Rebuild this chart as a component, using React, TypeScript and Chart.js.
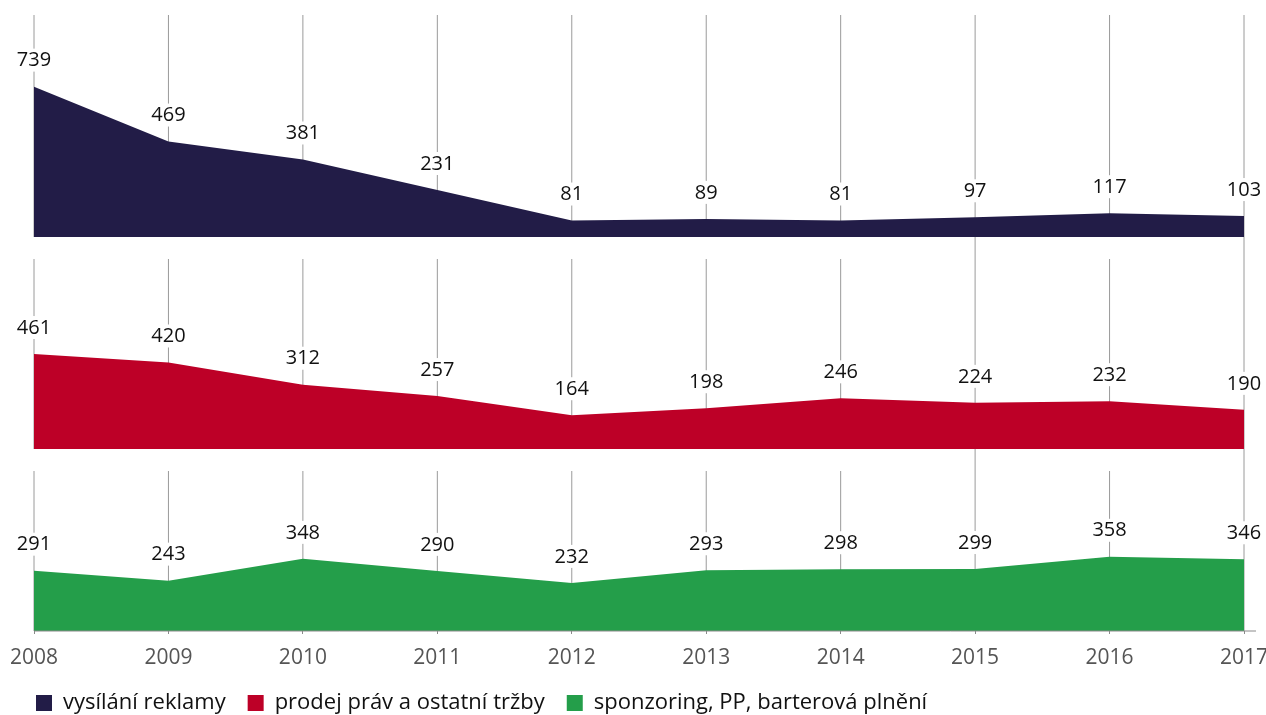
import React, { useEffect, useRef } from 'react';
import { Chart, registerables } from 'chart.js';

Chart.register(...registerables);

// ---- data ----
const years = ['2008', '2009', '2010', '2011', '2012', '2013', '2014', '2015', '2016', '2017'];
const advertising = [739, 469, 381, 231, 81, 89, 81, 97, 117, 103];
const rightsAndOther = [461, 420, 312, 257, 164, 198, 246, 224, 232, 190];
const sponsoring = [291, 243, 348, 290, 232, 293, 298, 299, 358, 346];
const seriesNames = ['vysílání reklamy', 'prodej práv a ostatní tržby', 'sponzoring, PP, barterová plnění'];
const continuousGridYears = ['2015', '2017'];

// ---- style ----
const FONT = '"Open Sans", "Noto Sans", sans-serif';
const COLORS = ['#221c47', '#bd0027', '#249e4a'];
const PANEL_GAP = 22;
const LABEL_OFFSET = 27;

export default function App() {
  const ref = useRef<HTMLCanvasElement | null>(null);

  useEffect(() => {
    document.body.style.margin = '0';
    const canvas = ref.current;
    if (!canvas) return;
    const panelIds = ['y1', 'y2', 'y3'];

    const gridPlugin = {
      id: 'panelGrid',
      beforeDatasetsDraw(chart: any) {
        const { ctx, scales, chartArea } = chart;
        const xs = scales.x;
        ctx.save();
        ctx.strokeStyle = '#9a9a9a';
        ctx.lineWidth = 1;
        years.forEach((yr, i) => {
          const px = xs.getPixelForValue(i);
          if (continuousGridYears.includes(yr)) {
            ctx.beginPath();
            ctx.moveTo(px, chartArea.top);
            ctx.lineTo(px, chartArea.bottom);
            ctx.stroke();
          } else {
            panelIds.forEach((id, p) => {
              const s = scales[id];
              const top = s.top + (p === 0 ? 0 : PANEL_GAP);
              ctx.beginPath();
              ctx.moveTo(px, top);
              ctx.lineTo(px, s.getPixelForValue(0));
              ctx.stroke();
            });
          }
        });
        ctx.restore();
      },
      afterDatasetsDraw(chart: any) {
        const { ctx, scales, chartArea } = chart;
        ctx.save();
        // bottom baseline
        const y0 = scales.y3.getPixelForValue(0);
        ctx.strokeStyle = '#8a8a8a';
        ctx.lineWidth = 1;
        ctx.beginPath();
        ctx.moveTo(chartArea.left, y0);
        ctx.lineTo(chartArea.right + 12, y0);
        ctx.stroke();
        // value labels
        ctx.font = `20px ${FONT}`;
        ctx.textAlign = 'center';
        ctx.textBaseline = 'middle';
        chart.data.datasets.forEach((ds: any, di: number) => {
          const meta = chart.getDatasetMeta(di);
          meta.data.forEach((pt: any, i: number) => {
            const text = String(ds.data[i]);
            const cx = pt.x;
            const cy = pt.y - LABEL_OFFSET;
            const w = ctx.measureText(text).width;
            ctx.fillStyle = '#ffffff';
            ctx.fillRect(cx - w / 2 - 2, cy - 11, w + 4, 23);
            ctx.fillStyle = '#111111';
            ctx.fillText(text, cx, cy + 1);
          });
        });
        ctx.restore();
      },
    };

    const hiddenY = (weight: number, stackWeight: number, max: number) => ({
      type: 'linear' as const,
      position: 'left' as const,
      stack: 'panels',
      stackWeight,
      weight,
      min: 0,
      max,
      grid: { display: false },
      border: { display: false },
      ticks: { display: false },
      afterFit(s: any) {
        s.width = 20;
      },
    });

    const chart = new Chart(canvas, {
      type: 'line',
      data: {
        labels: years,
        datasets: [
          { label: seriesNames[0], data: advertising, yAxisID: 'y1' },
          { label: seriesNames[1], data: rightsAndOther, yAxisID: 'y2' },
          { label: seriesNames[2], data: sponsoring, yAxisID: 'y3' },
        ].map((d, i) => ({
          ...d,
          fill: 'origin',
          backgroundColor: COLORS[i],
          borderColor: COLORS[i],
          borderWidth: 0,
          pointRadius: 0,
          pointHoverRadius: 0,
          tension: 0,
        })),
      },
      options: {
        animation: false,
        responsive: false,
        events: [],
        layout: { padding: { top: 15, left: 14, right: 22, bottom: 0 } },
        scales: {
          x: {
            type: 'category',
            offset: false,
            grid: { display: true, drawOnChartArea: false, drawTicks: true, tickLength: 3, color: '#8a8a8a' },
            border: { display: false },
            ticks: { color: '#555555', font: { size: 21, family: FONT }, padding: 11, maxRotation: 0, autoSkip: false },
            afterFit(s: any) {
              s.paddingLeft = 0;
              s.paddingRight = 0;
              s.height = 39;
            },
          },
          y1: hiddenY(3, 222, 1091),
          y2: hiddenY(2, 212, 1029),
          y3: hiddenY(1, 182, 878),
        },
        plugins: {
          tooltip: { enabled: false },
          legend: {
            display: true,
            position: 'bottom',
            align: 'start',
            labels: {
              color: '#111111',
              font: { size: 22, family: FONT },
              boxWidth: 16,
              boxHeight: 16,
              padding: 22,
            },
          },
        },
      },
      plugins: [gridPlugin],
    } as any);

    return () => chart.destroy();
  }, []);

  return (
    <div style={{ width: 1266, height: 715, overflow: 'hidden', position: 'relative' }}>
      <canvas ref={ref} width={1266} height={724} style={{ display: 'block' }} />
    </div>
  );
}
